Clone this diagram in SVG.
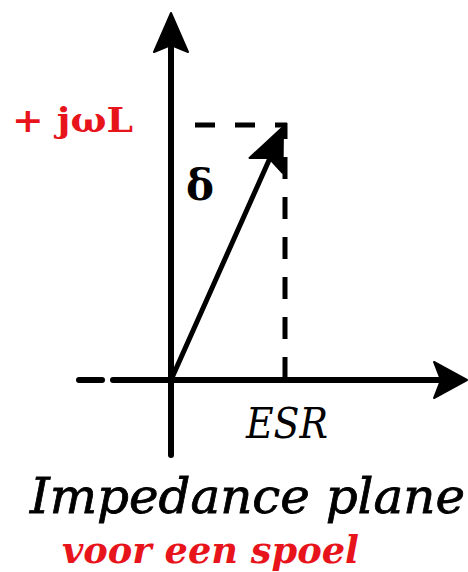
<svg xmlns="http://www.w3.org/2000/svg" width="468" height="572" viewBox="0 0 468 572">
<style>
.ax{stroke:#000;stroke-width:6;fill:none;stroke-linecap:round}
.dash{stroke:#000;stroke-width:5;fill:none}
.head{fill:#000;stroke:#000;stroke-width:2;stroke-linejoin:round}
.red{fill:#e8141c;font-family:"DejaVu Serif","Liberation Serif",serif;font-weight:bold}
.blk{fill:#000;font-family:"DejaVu Serif","Liberation Serif",serif}
</style>
<rect width="468" height="572" fill="#fff"/>
<g id="connectors">
  <g id="y-axis">
    <line class="ax" x1="171" y1="48" x2="171" y2="455"/>
    <polygon class="head" points="171,13 188,52 171,45 154,52"/>
  </g>
  <g id="x-axis">
    <line class="ax" x1="79" y1="380" x2="102" y2="380"/>
    <line class="ax" x1="113" y1="380" x2="440" y2="380"/>
    <polygon class="head" points="467,380 434,362 441,380 434,398"/>
  </g>
  <g id="vector">
    <line stroke="#000" stroke-width="5" stroke-linecap="round" x1="171" y1="380" x2="270" y2="158"/>
    <polygon class="head" points="283,127 282.5,172.7 269,158 249.5,158"/>
  </g>
  <g id="projections">
    <line class="dash" x1="195" y1="125" x2="287" y2="125" stroke-dasharray="20 20"/>
    <line class="dash" x1="285" y1="123" x2="285" y2="379" stroke-dasharray="22 18" stroke-dashoffset="6"/>
  </g>
</g>
<g id="label-jwl"><text class="red" x="12" y="132" font-size="34" textLength="121" lengthAdjust="spacingAndGlyphs">+ jωL</text></g>
<g id="label-delta"><text class="blk" x="186" y="200" font-size="42" font-weight="bold">δ</text></g>
<g id="label-esr"><text class="blk" x="246" y="438" font-size="42" font-style="italic" textLength="82" lengthAdjust="spacingAndGlyphs">ESR</text></g>
<g id="title"><text class="blk" x="30" y="513" font-size="48" font-style="italic" stroke="#000" stroke-width="0.8" textLength="435" lengthAdjust="spacingAndGlyphs">Impedance plane</text></g>
<g id="subtitle"><text class="red" x="62" y="563" font-size="38" font-style="italic" textLength="297" lengthAdjust="spacingAndGlyphs">voor een spoel</text></g>
</svg>
